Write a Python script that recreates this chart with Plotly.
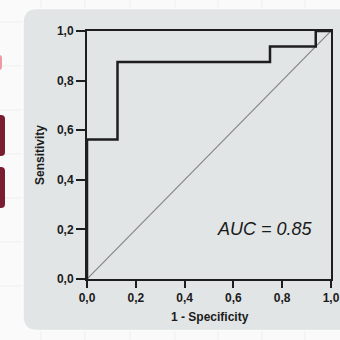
import plotly.graph_objects as go

# ROC data (step curve)
fpr = [0.0, 0.0, 0.125, 0.75, 0.9375, 1.0]
tpr = [0.0, 0.5625, 0.875, 0.9375, 1.0, 1.0]
diag_x = [0.0, 1.0]
diag_y = [0.0, 1.0]
tick_vals = [0.0, 0.2, 0.4, 0.6, 0.8, 1.0]
tick_text = ["0,0", "0,2", "0,4", "0,6", "0,8", "1,0"]
auc_label = "AUC = 0.85"

W, H = 340, 340
L, R, T, B = 87, 9, 31, 61
PW, PH = W - L - R, H - T - B


def px(x):
    return (x - L) / PW


def py(y):
    return (H - B - y) / PH


def rrect(x0, y0, x1, y1, r):
    # rounded rectangle path in paper coords from pixel coords
    d = (f"M {px(x0 + r)},{py(y0)} L {px(x1 - r)},{py(y0)} "
         f"Q {px(x1)},{py(y0)} {px(x1)},{py(y0 + r)} "
         f"L {px(x1)},{py(y1 - r)} Q {px(x1)},{py(y1)} {px(x1 - r)},{py(y1)} "
         f"L {px(x0 + r)},{py(y1)} Q {px(x0)},{py(y1)} {px(x0)},{py(y1 - r)} "
         f"L {px(x0)},{py(y0 + r)} Q {px(x0)},{py(y0)} {px(x0 + r)},{py(y0)} Z")
    return d


font_fam = "Liberation Sans, Arial, sans-serif"
txt = "#1b1b1b"

fig = go.Figure()
fig.add_trace(go.Scatter(x=diag_x, y=diag_y, mode="lines",
                         line=dict(color="#858585", width=1.2),
                         hoverinfo="skip", cliponaxis=False))
fig.add_trace(go.Scatter(x=fpr, y=tpr, mode="lines", line_shape="hv",
                         line=dict(color="#1e1e1e", width=2.5),
                         cliponaxis=False))

shapes = []
# faint slide grid lines outside the panel
for gx in [41, 85, 130, 175, 218, 262, 305]:
    shapes.append(dict(type="line", xref="paper", yref="paper",
                       x0=px(gx), x1=px(gx), y0=py(0), y1=py(340),
                       line=dict(color="#efefef", width=1), layer="below"))
for gy in [22, 66, 110, 154, 198, 242, 286]:
    shapes.append(dict(type="line", xref="paper", yref="paper",
                       x0=px(0), x1=px(340), y0=py(gy), y1=py(gy),
                       line=dict(color="#efefef", width=1), layer="below"))
# dark red side elements
shapes.append(dict(type="path", xref="paper", yref="paper",
                   path=rrect(-12, 115, 5, 156, 4), fillcolor="#7b1d30",
                   line=dict(width=0), layer="below"))
shapes.append(dict(type="path", xref="paper", yref="paper",
                   path=rrect(-12, 167, 5, 208, 4), fillcolor="#7b1d30",
                   line=dict(width=0), layer="below"))
shapes.append(dict(type="path", xref="paper", yref="paper",
                   path=rrect(-12, 55, 2, 70, 3), fillcolor="#ec9aa4",
                   line=dict(width=0), layer="below"))
# panel
shapes.append(dict(type="path", xref="paper", yref="paper",
                   path=rrect(23, 8.5, 360, 330.5, 14), fillcolor="#e1e5e5",
                   line=dict(color="#fbfbfb", width=1.5), layer="below"))

fig.add_annotation(x=0.73, y=0.2, xref="x", yref="y", text=auc_label,
                   showarrow=False, xanchor="center", yanchor="middle",
                   font=dict(family=font_fam, size=18, color=txt, style="italic"))
fig.add_annotation(x=px(210), y=py(317), xref="paper", yref="paper",
                   text="1 - Specificity", showarrow=False,
                   xanchor="center", yanchor="middle",
                   font=dict(family=font_fam, size=12, color=txt, weight="bold"))
fig.add_annotation(x=px(40), y=py(155), xref="paper", yref="paper",
                   text="Sensitivity", showarrow=False, textangle=-90,
                   xanchor="center", yanchor="middle",
                   font=dict(family=font_fam, size=12, color=txt, weight="bold"))

axis_common = dict(range=[0, 1], tickvals=tick_vals, ticktext=tick_text,
                   showgrid=False, zeroline=False, showline=True,
                   linecolor="#1e1e1e", linewidth=2, mirror=True,
                   ticks="outside", tickcolor="#1e1e1e", tickwidth=1.5,
                   automargin=False, fixedrange=True,
                   tickfont=dict(family=font_fam, size=12, color=txt, weight="bold"))

fig.update_layout(
    width=W, height=H,
    margin=dict(l=L, r=R, t=T, b=B, pad=0),
    paper_bgcolor="#fafafa",
    plot_bgcolor="rgba(0,0,0,0)",
    showlegend=False,
    shapes=shapes,
    xaxis=dict(**axis_common, ticklen=7),
    yaxis=dict(**axis_common, ticklen=9),
)

fig.write_html("out.html", config={"displayModeBar": False},
               post_script="document.body.style.margin='0';document.body.style.overflow='hidden';")
